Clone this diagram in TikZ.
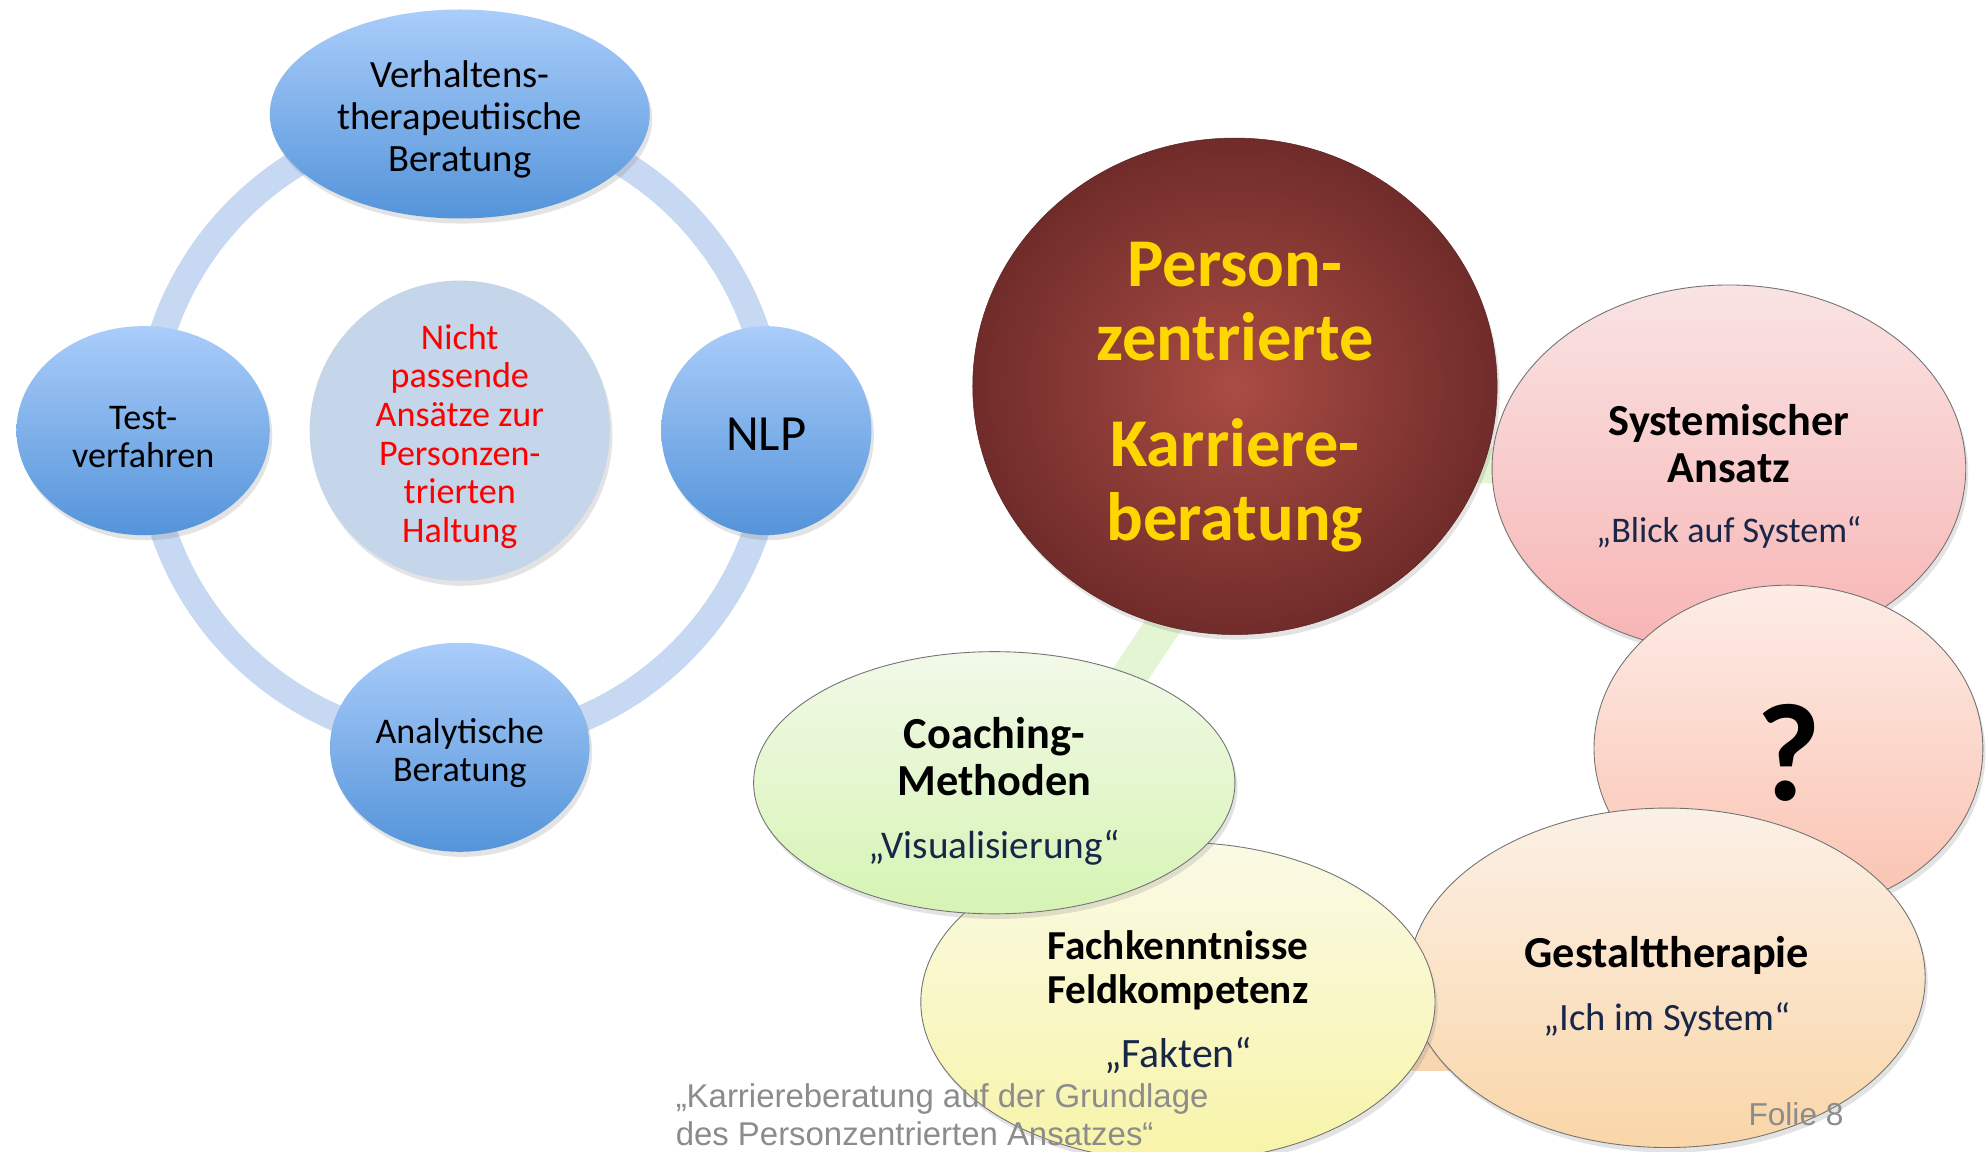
\documentclass[tikz,border=0pt]{standalone}
\usepackage{fontspec}
\setmainfont{Carlito}
\newfontfamily\fussschrift{Liberation Sans}
\usetikzlibrary{shapes.geometric, shadows, backgrounds}

% Farben
\definecolor{blauhell}{RGB}{170,205,250}
\definecolor{blaudunkel}{RGB}{84,148,218}
\definecolor{ringblau}{RGB}{198,216,242}
\definecolor{mittegrau}{RGB}{197,214,234}
\definecolor{weinrot}{RGB}{112,44,42}
\definecolor{weinrothell}{RGB}{170,76,68}
\definecolor{goldgelb}{RGB}{255,215,0}
\definecolor{zitatblau}{RGB}{24,38,72}
\definecolor{fussgrau}{RGB}{140,140,140}
\definecolor{rosaoben}{RGB}{249,227,227}
\definecolor{rosaunten}{RGB}{248,180,180}
\definecolor{lachsoben}{RGB}{253,236,230}
\definecolor{lachsunten}{RGB}{250,194,176}
\definecolor{orangeoben}{RGB}{251,240,230}
\definecolor{orangeunten}{RGB}{250,214,168}
\definecolor{gelboben}{RGB}{250,250,230}
\definecolor{gelbunten}{RGB}{248,244,168}
\definecolor{gruenoben}{RGB}{242,249,232}
\definecolor{gruenunten}{RGB}{214,244,180}
\definecolor{linkgruen}{RGB}{228,245,212}
\definecolor{linkorange}{RGB}{248,214,176}

% Zitatzeile unter den Titeln
\newcommand{\zitat}[2][28]{{\fontsize{#1}{37}\selectfont\mdseries\color{zitatblau}„#2“}}
% unsichtbare Stuetze, schiebt den Text im Knoten nach unten
\newcommand{\oben}[1]{\rule{0pt}{#1pt}}

\begin{document}
\begin{tikzpicture}[x=1pt, y=-1pt,
    schatten/.style={drop shadow={opacity=0.22, shadow xshift=2pt, shadow yshift=-4pt}},
    blau/.style={ellipse, shade, top color=blauhell, bottom color=blaudunkel,
        inner sep=0pt, outer sep=0pt, align=center, schatten,
        font=\fontsize{28.5}{30}\selectfont},
    mitte/.style={circle, fill=mittegrau, inner sep=0pt, align=center, schatten,
        text=red, font=\fontsize{28.5}{30.5}\selectfont},
    ring/.style={draw=ringblau, line width=21pt},
    zentrum/.style={ellipse, shade, inner color=weinrothell, outer color=weinrot,
        draw=weinrot!80!black, inner sep=0pt, align=center, schatten,
        text=goldgelb, font=\fontsize{54}{59}\selectfont\bfseries},
    blase/.style={ellipse, draw=black!55, line width=0.7pt, inner sep=0pt,
        align=center, schatten, font=\fontsize{35}{37}\selectfont\bfseries},
    verbindung/.style={line width=28pt},
]
    \useasboundingbox (0,0) rectangle (1568,909);

    % Zyklus links
    \coordinate (kreismitte) at (363,340);
    \node[blau, minimum width=300pt, minimum height=165pt,
        font=\fontsize{30.5}{33}\selectfont] (verhalten) at (363,90)
        {\oben{30}Verhaltens-\\therapeutiische\\Beratung};
    \node[blau, minimum width=200pt, minimum height=165pt] (test) at (113,340)
        {\oben{29}Test-\\verfahren};
    \node[blau, minimum width=166pt, minimum height=165pt,
        font=\fontsize{40}{46}\selectfont] (nlp) at (605,340) {\oben{31}NLP};
    \node[blau, minimum width=205pt, minimum height=165pt] (analytisch) at (363,590)
        {\oben{29}Analytische\\Beratung};
    \node[mitte, minimum size=237pt] (nichtpassend) at (kreismitte)
        {\oben{29}Nicht\\passende\\Ansätze zur\\Personzen-\\trierten\\Haltung};

    % Zentrum und Blasen rechts
    \node[zentrum, minimum width=414pt, minimum height=392pt] (hub) at (975,305)
        {\oben{52}Person-\\zentrierte\\[24pt]Karriere-\\beratung};
    \node[blase, top color=rosaoben, bottom color=rosaunten,
        minimum width=374pt, minimum height=290pt] (system) at (1365,370)
        {\oben{37}Systemischer\\Ansatz\\[10pt]\zitat[28.5]{Blick auf System}};
    \node[blase, top color=lachsoben, bottom color=lachsunten,
        minimum width=307pt, minimum height=258pt,
        font=\fontsize{110}{110}\selectfont\bfseries] (frage) at (1412,591)
        {\oben{82}?};
    \node[blase, top color=orangeoben, bottom color=orangeunten,
        minimum width=408pt, minimum height=268pt] (gestalt) at (1316,772)
        {\oben{38}Gestalttherapie\\[13pt]\zitat[30.5]{Ich im System}};
    \node[blase, top color=gelboben, bottom color=gelbunten,
        minimum width=406pt, minimum height=252pt,
        font=\fontsize{32.5}{35}\selectfont\bfseries] (fach) at (930,791)
        {Fachkenntnisse\\Feldkompetenz\\[15pt]\zitat[33]{Fakten}};
    \node[blase, top color=gruenoben, bottom color=gruenunten,
        minimum width=380pt, minimum height=207pt] (coach) at (785,618)
        {\oben{38}Coaching-\\Methoden\\[13pt]\zitat[31]{Visualisierung}};

    % Ring und Verbindungen
    \begin{scope}[on background layer]
        \draw[ring] (kreismitte) circle[radius=247];
        \draw[verbindung, linkgruen] ([xshift=70pt]hub.center) -- ([xshift=50pt]coach.center);
        \draw[verbindung, linkgruen] ([yshift=-60pt]hub.center) -- (system.center);
        \draw[verbindung, linkorange] ([yshift=-40pt]fach.center) -- ([yshift=-60pt]gestalt.center);
    \end{scope}

    % Fusszeile
    \node[anchor=west, align=left, text=fussgrau,
        font=\fussschrift\fontsize{26}{30}\selectfont] (quelle) at (530,880)
        {„Karriereberatung auf der Grundlage\\des Personzentrierten Ansatzes“};
    \node[text=fussgrau, font=\fussschrift\fontsize{25}{30}\selectfont] (folie) at (1418,880)
        {Folie 8};
\end{tikzpicture}
\end{document}
